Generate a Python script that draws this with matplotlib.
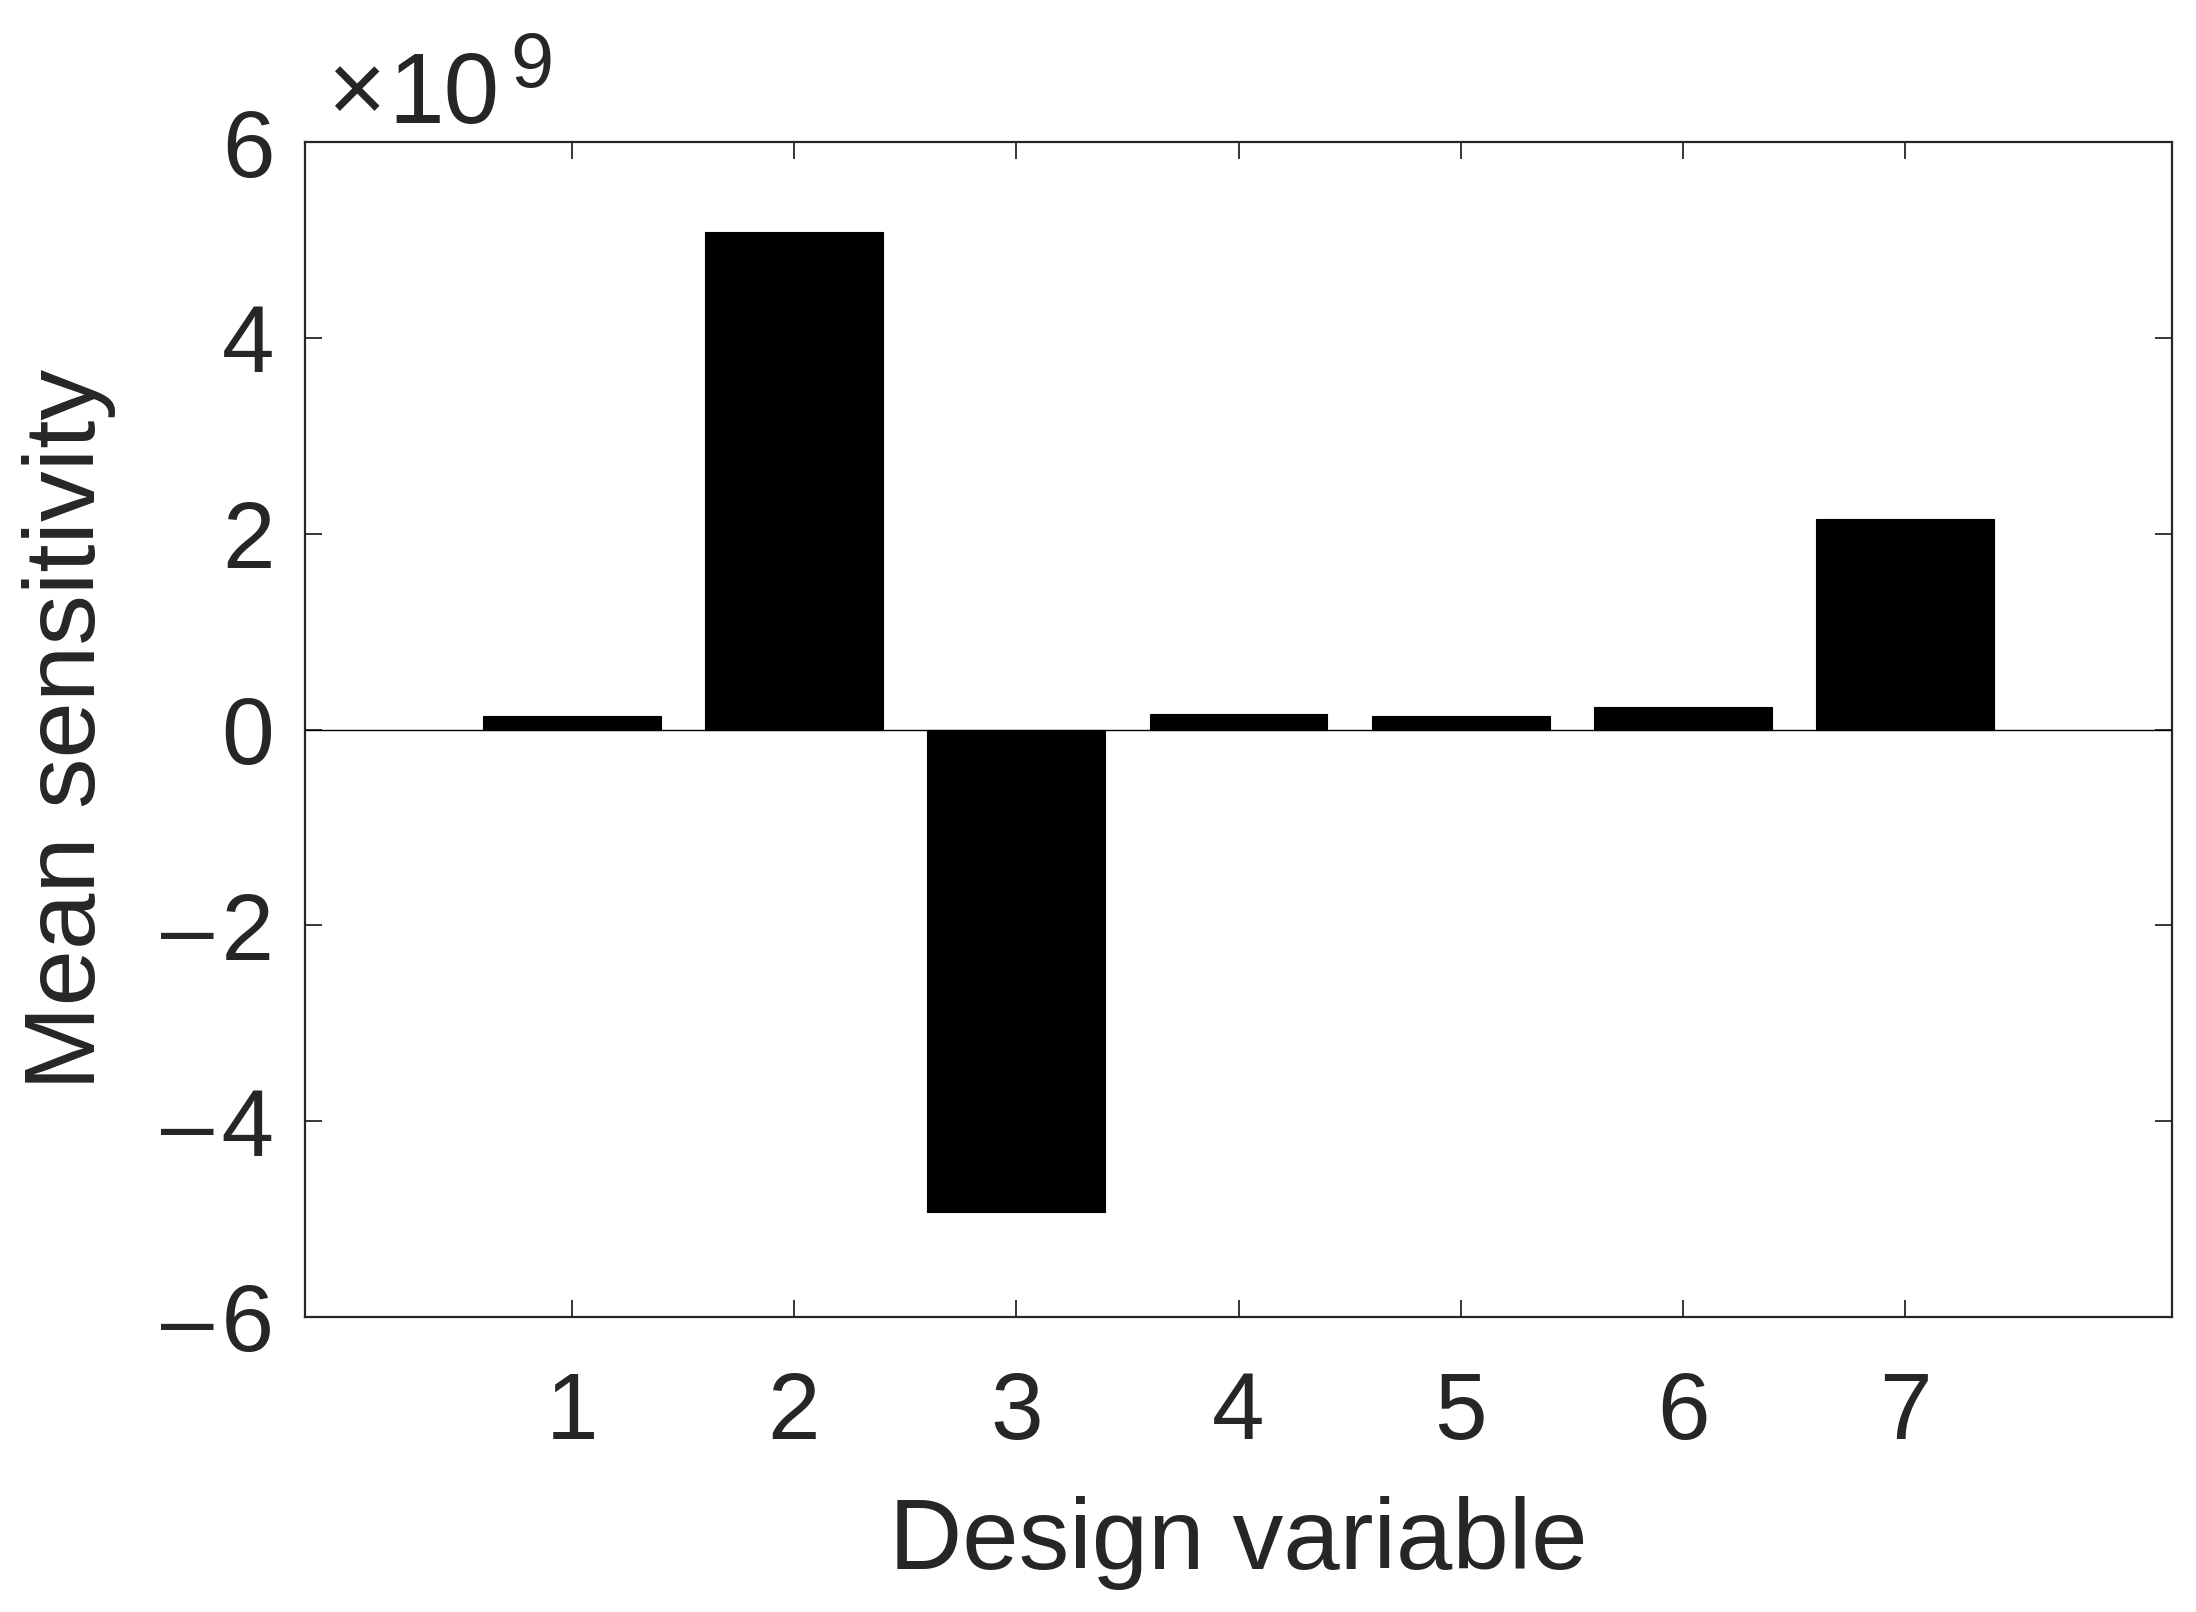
import matplotlib
matplotlib.use("Agg")
import matplotlib.pyplot as plt
from matplotlib.ticker import FuncFormatter

# Data (values in units of 1e9)
design_vars = [1, 2, 3, 4, 5, 6, 7]
tick_labels = ["1", "2", "3", "4", "5", "6", "7"]
mean_sens = [0.14, 5.08, -4.93, 0.16, 0.14, 0.23, 2.15]
y_ticks = [-6, -4, -2, 0, 2, 4, 6]

W, H = 2196, 1612
DPI = 100
plt.rcParams['font.family'] = ['Liberation Sans', 'DejaVu Sans']
txt_col = '#262626'

fig = plt.figure(figsize=(W / DPI, H / DPI), dpi=DPI)
ax = fig.add_axes([305 / W, (H - 1317) / H, (2172 - 305) / W, (1317 - 142) / H])

ax.bar(design_vars, mean_sens, width=0.8, color='black', edgecolor='black', linewidth=0.8, zorder=2)
ax.axhline(0, color='black', linewidth=1.0, zorder=3)

ax.set_xlim(-0.2, 8.2)
ax.set_ylim(-6, 6)
ax.set_xticks(design_vars)
ax.set_xticklabels(tick_labels)
ax.set_yticks(y_ticks)


def yfmt(v, pos):
    v = int(round(v))
    if v < 0:
        return '\u2013\u200a' + str(-v)
    return str(v)


ax.yaxis.set_major_formatter(FuncFormatter(yfmt))

for s in ax.spines.values():
    s.set_linewidth(1.6)
    s.set_color(txt_col)

ax.tick_params(axis='both', direction='in', length=12, width=1.3, color=txt_col,
               labelcolor=txt_col, labelsize=68, top=True, right=True)
ax.tick_params(axis='x', pad=38)
ax.tick_params(axis='y', pad=22)

ax.set_xlabel('Design variable', fontsize=73, color=txt_col, labelpad=27)
ax.set_ylabel('Mean sensitivity', fontsize=73, color=txt_col, labelpad=33)

# exponent label
fig.text(327 / W, (H - 122) / H, '\u00d7', fontsize=72, color=txt_col, ha='left', va='baseline')
fig.text(388 / W, (H - 123) / H, '10', fontsize=72, color=txt_col, ha='left', va='baseline')
fig.text(510 / W, (H - 87) / H, '9', fontsize=56, color=txt_col, ha='left', va='baseline')

fig.savefig('out.png', dpi=DPI, facecolor='white')
